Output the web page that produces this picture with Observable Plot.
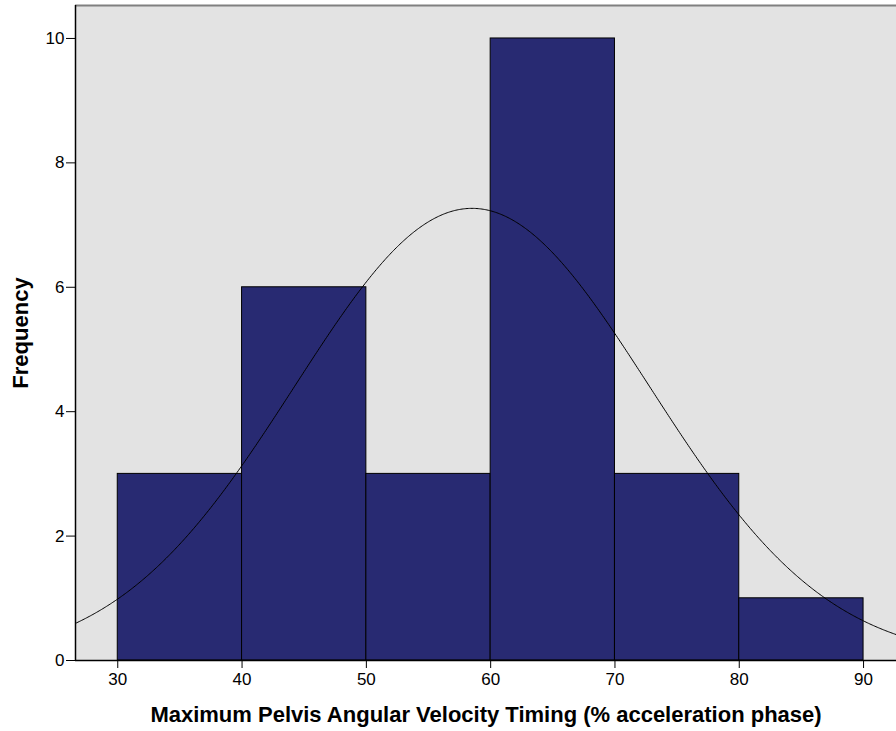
<!DOCTYPE html>
<html>
<head>
<meta charset="utf-8">
<script src="https://cdn.jsdelivr.net/npm/d3@7"></script>
<script src="https://cdn.jsdelivr.net/npm/@observablehq/plot@0.6"></script>
<style>
  html, body { margin: 0; padding: 0; background: #ffffff; }
  #chart svg { display: block; }
</style>
</head>
<body>
<div id="chart"></div>
<script>
// Histogram bins (lower edge of each 10-unit bin) and their frequencies
const binStarts = [30, 40, 50, 60, 70, 80];
const binWidth = 10;
const counts = [3, 6, 3, 10, 3, 1];

// Fitted normal curve parameters
const sampleMean = 58.5;
const sampleSD = 14.27;
const sampleN = 26;

const xTicks = [30, 40, 50, 60, 70, 80, 90];
const yTicks = [0, 2, 4, 6, 8, 10];

const xDomain = [26.6, 92.65];
const yDomain = [0, 10.53];

const bins = binStarts.map((b, i) => ({ x1: b, x2: b + binWidth, count: counts[i] }));

// Normal density scaled to frequency: N * width * pdf(x)
const curve = d3.range(xDomain[0], xDomain[1] + 0.01, 0.1).map(x => {
  const z = (x - sampleMean) / sampleSD;
  return { x, y: sampleN * binWidth * Math.exp(-0.5 * z * z) / (sampleSD * Math.sqrt(2 * Math.PI)) };
});

const chart = Plot.plot({
  width: 896,
  height: 731,
  marginLeft: 75,
  marginRight: 0,
  marginTop: 5,
  marginBottom: 71,
  style: { fontFamily: "'Liberation Sans', Arial, sans-serif", fontSize: "17px", color: "#000" },
  x: { domain: xDomain, ticks: xTicks, label: null },
  y: { domain: yDomain, ticks: yTicks, label: null },
  marks: [
    Plot.frame({ fill: "#e3e3e3", stroke: "none" }),
    Plot.ruleY([yDomain[1]], { stroke: "#808080", strokeWidth: 2 }),
    Plot.rectY(bins, { x1: "x1", x2: "x2", y: "count", fill: "#282a72", stroke: "#000", strokeWidth: 1 }),
    Plot.line(curve, { x: "x", y: "y", stroke: "#000", strokeWidth: 1 }),
    Plot.axisX({ ticks: xTicks, tickSize: 8, tickPadding: 4, fontSize: 17, stroke: "#000" }),
    Plot.axisY({ ticks: yTicks, tickSize: 9, tickPadding: 2, fontSize: 17, stroke: "#000" }),
    Plot.ruleX([xDomain[0]], { stroke: "#000", strokeWidth: 1.5 }),
    Plot.ruleY([0], { stroke: "#000", strokeWidth: 1.5 }),
    Plot.text(["Maximum Pelvis Angular Velocity Timing (% acceleration phase)"], {
      frameAnchor: "bottom", dy: 61, fontSize: 22, fontWeight: "bold", fill: "#000"
    }),
    Plot.text(["Frequency"], {
      frameAnchor: "left", textAnchor: "middle", dx: -55, rotate: -90, fontSize: 22, fontWeight: "bold", fill: "#000"
    })
  ]
});

document.getElementById("chart").appendChild(chart);
</script>
</body>
</html>
